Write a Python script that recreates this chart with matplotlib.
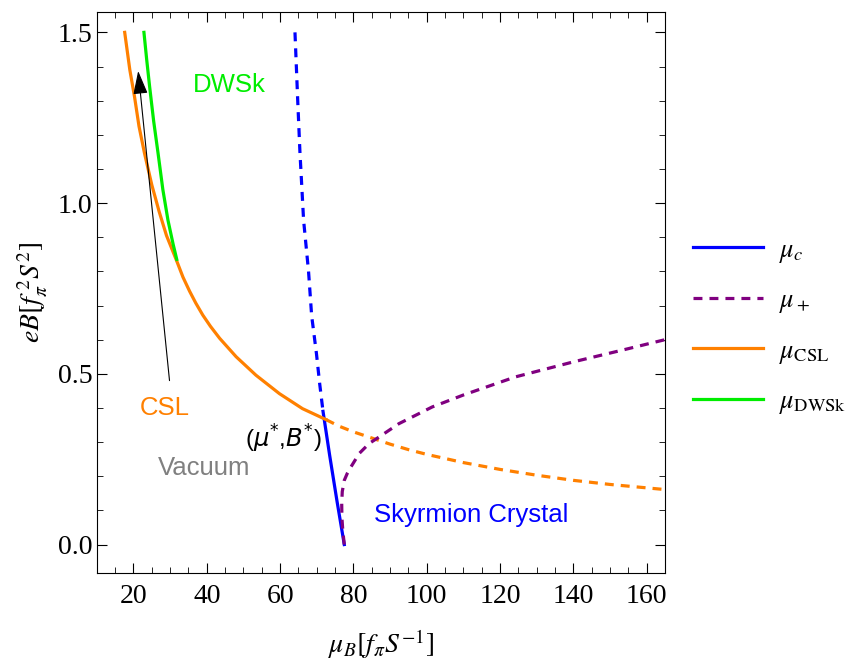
import matplotlib
matplotlib.use('Agg')
import matplotlib.pyplot as plt
from matplotlib.ticker import MultipleLocator, FormatStrFormatter

plt.rcParams['font.family'] = 'Liberation Serif'
plt.rcParams['mathtext.fontset'] = 'stix'

# orange: CSL boundary (solid part, then dashed continuation)
csl_mu = [17.6, 19, 20.3, 21.5, 23, 25, 27, 29, 31.7, 33.5, 35.3, 37, 38.9, 41, 43.5, 48, 53.4, 59.8, 66.1, 72.5]
csl_B = [1.50, 1.39, 1.31, 1.225, 1.146, 1.053, 0.975, 0.905, 0.833, 0.783, 0.742, 0.707, 0.672, 0.639,
         0.604, 0.55, 0.496, 0.442, 0.398, 0.366]
csl_dash_mu = [72.5, 76, 80, 86.4, 90, 95, 100, 110, 120, 130, 140, 150, 165]
csl_dash_B = [0.366, 0.347, 0.33, 0.307, 0.294, 0.278, 0.264, 0.24, 0.22, 0.203, 0.188, 0.176, 0.161]

# green: DWSk
dw_mu = [22.85, 23.6, 24.4, 25.5, 26.7, 28.0, 29.4, 30.8, 31.8]
dw_B = [1.50, 1.42, 1.341, 1.24, 1.146, 1.04, 0.95, 0.88, 0.835]

# blue: mu_c (solid below the triple point, dashed above)
muc_mu = [71.7, 73.5, 75.5, 77.5]
muc_B = [0.39, 0.262, 0.128, 0.0]
muc_dash_mu = [64.05, 64.8, 65.4, 66.4, 67.75, 68.6, 69.9, 70.8, 71.7]
muc_dash_B = [1.50, 1.30, 1.15, 0.95, 0.80, 0.67, 0.56, 0.47, 0.39]

# purple: mu_+
mup_mu = [77.5, 77.1, 76.85, 76.8, 76.95, 77.5, 78.3, 79.3, 81.6, 84.3, 87.0, 92.4, 101.5,
          110, 124.2, 140, 153.2, 165]
mup_B = [0.0, 0.04, 0.08, 0.12, 0.155, 0.188, 0.208, 0.227, 0.267, 0.296, 0.315, 0.354, 0.403,
         0.438, 0.491, 0.535, 0.569, 0.60]

fig = plt.figure(figsize=(8.57, 6.6), dpi=100)
ax = fig.add_axes([0.113, 0.132, 0.663, 0.850])

c_blue = (0, 0, 1)
c_purple = (0.5, 0, 0.5)
c_orange = (1, 0.5, 0)
c_green = (0, 0.93, 0)
dash = (0, (2.8, 2.2))
lw = 2.3

ax.plot(csl_dash_mu, csl_dash_B, color=c_orange, lw=lw, ls=dash)
ax.plot(muc_dash_mu, muc_dash_B, color=c_blue, lw=lw, ls=dash)
ax.plot(muc_mu, muc_B, color=c_blue, lw=lw, label=r'$\mu_c$')
ax.plot(mup_mu, mup_B, color=c_purple, lw=lw, ls=dash, label=r'$\mu_+$')
ax.plot(csl_mu, csl_B, color=c_orange, lw=lw, label=r'$\mu_{\rm CSL}$')
ax.plot(dw_mu, dw_B, color=c_green, lw=lw, label=r'$\mu_{\rm DWSk}$')

ax.annotate('', xy=(21.2, 1.395), xytext=(29.9, 0.472),
            arrowprops=dict(arrowstyle='-|>,head_length=1.45,head_width=0.45',
                            color='black', lw=0.8, mutation_scale=10))

sans = 'Liberation Sans'
fs = 18.5
ax.text(46.2, 1.345, 'DWSk', color=c_green, fontsize=fs, family=sans, ha='center', va='center')
ax.text(28.5, 0.40, 'CSL', color=c_orange, fontsize=fs, family=sans, ha='center', va='center')
ax.text(39.4, 0.223, 'Vacuum', color='gray', fontsize=fs, family=sans, ha='center', va='center')
ax.text(112, 0.086, 'Skyrmion Crystal', color=c_blue, fontsize=fs, family=sans, ha='center', va='center')
ax.text(71.3, 0.31, r'($\mathit{\mu}^{*}$,$\mathit{B}^{*}$)', color='black', fontsize=17.5,
        family=sans, ha='right', va='center', math_fontfamily='dejavusans')

ax.set_xlim(10, 165)
ax.set_ylim(-0.083, 1.56)
ax.xaxis.set_major_locator(MultipleLocator(20))
ax.xaxis.set_minor_locator(MultipleLocator(5))
ax.yaxis.set_major_locator(MultipleLocator(0.5))
ax.yaxis.set_minor_locator(MultipleLocator(0.1))
ax.tick_params(which='both', direction='in', top=True, right=True, labelsize=20)
ax.tick_params(which='major', length=7, width=0.8)
ax.tick_params(which='minor', length=4, width=0.6)
ax.tick_params(axis='x', pad=8)
ax.tick_params(axis='y', pad=3)
ax.yaxis.set_major_formatter(FormatStrFormatter('%.1f'))

ax.set_xlabel(r'$\mu_B[f_\pi S^{-1}]$', fontsize=20, labelpad=13)
ax.set_ylabel(r'$eB[f_\pi^{\ 2}S^2]$', fontsize=20, labelpad=6)

ax.legend(loc='center left', bbox_to_anchor=(1.008, 0.438), frameon=False, fontsize=19,
          handlelength=2.65, labelspacing=0.91, handletextpad=0.6)

fig.savefig('out.png', dpi=100)
